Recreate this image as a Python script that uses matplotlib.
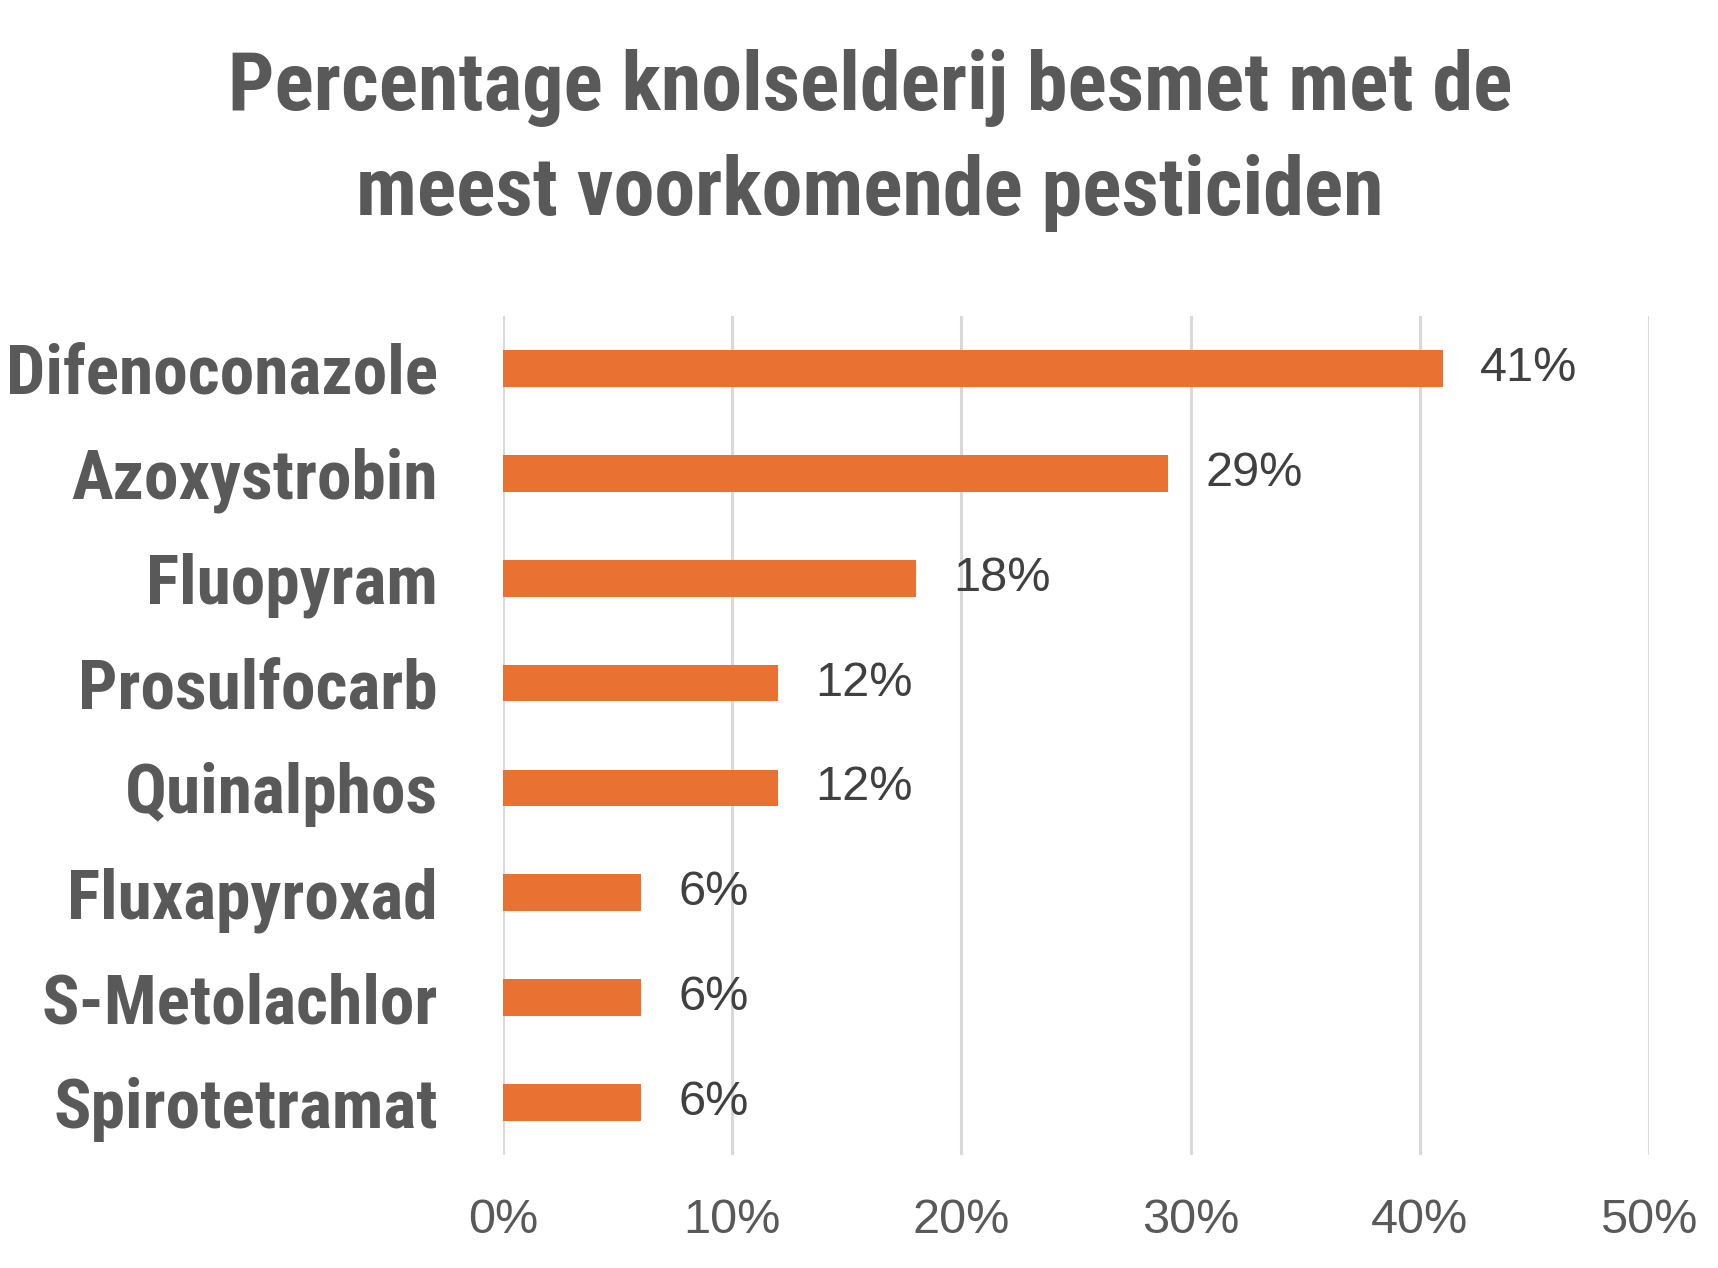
import matplotlib
matplotlib.use("Agg")
import matplotlib.pyplot as plt
from matplotlib.ticker import FuncFormatter
from matplotlib.transforms import ScaledTranslation

categories = ["Difenoconazole", "Azoxystrobin", "Fluopyram", "Prosulfocarb",
              "Quinalphos", "Fluxapyroxad", "S-Metolachlor", "Spirotetramat"]
values = [41, 29, 18, 12, 12, 6, 6, 6]
xticks = [0, 10, 20, 30, 40, 50]
title_lines = ["Percentage knolselderij besmet met de", "meest voorkomende pesticiden"]

BAR = "#E97132"
TXT = "#595959"
GRID = "#D9D9D9"
NARROW = ["Roboto Condensed", "DejaVu Sans"]
REG = ["Liberation Sans", "DejaVu Sans"]

W, H = 1718, 1268
fig = plt.figure(figsize=(W / 100, H / 100), dpi=100)
ax = fig.add_axes([503 / W, 113 / H, (1649 - 503) / W, (1155 - 316) / H])

ypos = list(range(len(categories)))
ax.barh(ypos, values, height=0.35, color=BAR, zorder=3)
ax.set_xlim(0, 50)
ax.set_ylim(len(categories) - 0.5, -0.5)
ax.set_xticks(xticks)
ax.xaxis.set_major_formatter(FuncFormatter(lambda v, p: f"{int(v)}%"))
ax.set_yticks(ypos)
ax.set_yticklabels(categories, family=NARROW, fontweight="bold", fontsize=50, color=TXT)
shift = ScaledTranslation(0, 5 / 100, fig.dpi_scale_trans)
for lab in ax.get_yticklabels():
    lab.set_transform(lab.get_transform() + shift)
for lab in ax.get_xticklabels():
    lab.set_family(REG)
    lab.set_fontsize(35)
    lab.set_color(TXT)
ax.tick_params(axis="x", length=0, pad=31)
ax.tick_params(axis="y", length=0, pad=47)
ax.grid(axis="x", color=GRID, linewidth=2.2, zorder=0)
for s in ax.spines.values():
    s.set_visible(False)

for y, v in zip(ypos, values):
    ax.annotate(f"{v}%", (v, y), xytext=(27, 0), textcoords="offset points",
                va="center", ha="left", family=REG, fontsize=35, color="#404040")

for line, base in zip(title_lines, [110, 215]):
    fig.text(870 / W, 1 - base / H, line, ha="center", va="baseline", family=NARROW,
             fontweight="bold", fontsize=59, color=TXT)

fig.savefig("out.png", dpi=100, facecolor="white")
